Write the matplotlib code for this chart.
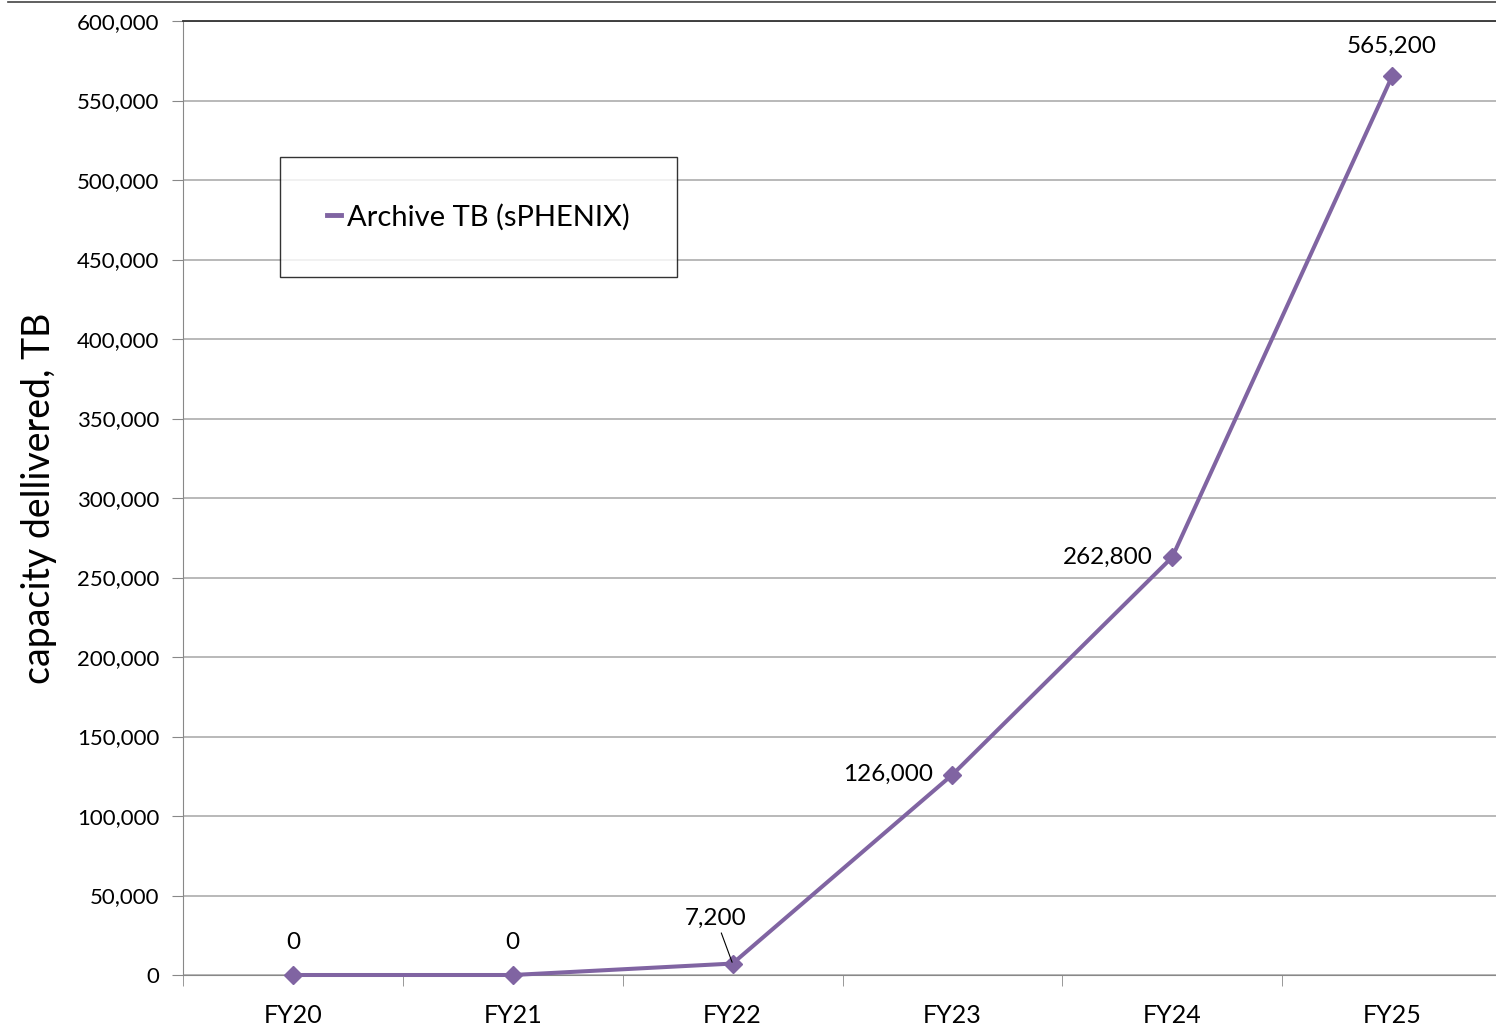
import matplotlib.pyplot as plt
from matplotlib.lines import Line2D
from matplotlib.ticker import FuncFormatter, FixedLocator

# data
years = ["FY20", "FY21", "FY22", "FY23", "FY24", "FY25"]
archive_tb = [0, 0, 7200, 126000, 262800, 565200]
series_name = "Archive TB (sPHENIX)"

purple = "#8064A2"
plt.rcParams['font.family'] = ['Lato', 'DejaVu Sans']

fig = plt.figure(figsize=(14.96, 10.29), dpi=100)
ax = fig.add_axes([183 / 1496, 1 - 975 / 1029, (1502 - 183) / 1496, (975 - 21) / 1029])

x = list(range(len(years)))
ax.plot(x, archive_tb, color=purple, lw=2.9, marker="D", ms=9.5,
        label=series_name, clip_on=False, zorder=3)

ax.set_xlim(-0.5, len(years) - 0.5)
ax.set_ylim(0, 600000)
ax.set_yticks(range(0, 600001, 50000))
ax.yaxis.set_major_formatter(FuncFormatter(lambda v, p: f"{int(v):,}"))
ax.set_xticks(x)
ax.set_xticklabels(years, fontsize=18)
ax.xaxis.set_minor_locator(FixedLocator([i + 0.5 for i in range(-1, len(years))]))
ax.tick_params(axis="x", which="major", length=0, pad=21)
ax.tick_params(axis="x", which="minor", length=8, color="#888888")
ax.tick_params(axis="y", length=8, color="#888888", labelsize=16, pad=9)

ax.grid(axis="y", color="#a6a6a6", lw=1.1)
ax.set_axisbelow(True)
for s in ["right"]:
    ax.spines[s].set_visible(False)
ax.spines["left"].set_color("#888888")
ax.spines["bottom"].set_color("#888888")
ax.spines["top"].set_color("#333333")
ax.spines["top"].set_linewidth(1.3)

ax.set_ylabel("capacity dellivered, TB", fontsize=27, labelpad=14)

# data labels
lab_fs = 17.5
ax.annotate("0", (0, archive_tb[0]), xytext=(0, 16), textcoords="offset points",
            ha="center", va="bottom", fontsize=lab_fs)
ax.annotate("0", (1, archive_tb[1]), xytext=(0, 16), textcoords="offset points",
            ha="center", va="bottom", fontsize=lab_fs)
ax.annotate(f"{archive_tb[2]:,}", (2, archive_tb[2]), xytext=(-12, 25), textcoords="offset points",
            ha="center", va="bottom", fontsize=lab_fs,
            arrowprops=dict(arrowstyle="-", color="black", lw=0.8, shrinkA=1, shrinkB=1))
ax.annotate(f"{archive_tb[3]:,}", (3, archive_tb[3]), xytext=(-14, 0), textcoords="offset points",
            ha="right", va="center", fontsize=lab_fs)
ax.annotate(f"{archive_tb[4]:,}", (4, archive_tb[4]), xytext=(-14, 0), textcoords="offset points",
            ha="right", va="center", fontsize=lab_fs)
ax.annotate(f"{archive_tb[5]:,}", (5, archive_tb[5]), xytext=(0, 14), textcoords="offset points",
            ha="center", va="bottom", fontsize=lab_fs)

leg = ax.legend(loc="upper left", bbox_to_anchor=((280 - 183) / 1319, 1 - (157 - 21) / 954),
                fontsize=21, frameon=True, fancybox=False, edgecolor="black",
                handlelength=0.5, handletextpad=0.2, borderpad=1.6,
                borderaxespad=0, markerscale=0)
leg.get_frame().set_linewidth(1.0)
for h in leg.legend_handles:
    h.set_marker("")
    h.set_linewidth(3.5)

# thin line at very top of slide
fig.add_artist(Line2D([8 / 1496, 1], [1 - 2 / 1029, 1 - 2 / 1029], color="#444444", lw=1.2))

fig.savefig("out.png", dpi=100)
